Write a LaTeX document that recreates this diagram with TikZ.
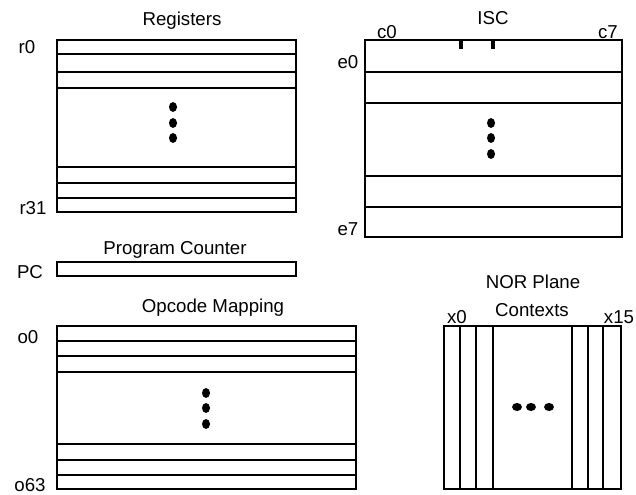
\documentclass[tikz,border=0pt]{standalone}
\usepackage{fontspec}
\setmainfont{Liberation Sans}
\begin{document}
\begin{tikzpicture}[x=0.75pt, y=-0.75pt, line width=1.3pt,
	lbl/.style={font=\fontsize{14}{16}\selectfont, inner sep=0pt}]
	\useasboundingbox (0,0) rectangle (636,495);
		% Registers
		\begin{scope}
			\draw (57,40) rectangle (296,212);
			\foreach \y in {54,72,88,167,183,198} \draw (57,\y) -- (296,\y);
			\foreach \y in {107,123,138} \fill (173,\y) ellipse (4 and 5);
			\node[lbl] (regtitle) at (182,21) {Registers};
			\node[lbl] (r0) at (27,47) {r0};
			\node[lbl] (r31) at (33,208) {r31};
		\end{scope}

		% ISC
		\begin{scope}
			\draw (365,40) rectangle (622,237);
			\foreach \y in {72,103,176,207} \draw (365,\y) -- (622,\y);
			\foreach \x in {461,493} \draw[line width=2.5pt] (\x,40) -- (\x,49);
			\foreach \y in {123,138,154} \fill (491,\y) ellipse (4 and 5);
			\node[lbl] (isctitle) at (493,18) {ISC};
			\node[lbl] (c0) at (387,32) {c0};
			\node[lbl] (c7) at (608,32) {c7};
			\node[lbl] (e0) at (348,62) {e0};
			\node[lbl] (e7) at (348,229) {e7};
		\end{scope}

		% Program Counter
		\begin{scope}
			\draw (57,262) rectangle (296,276);
			\node[lbl] (pctitle) at (175,250) {Program Counter};
			\node[lbl] (pc) at (30,272) {PC};
		\end{scope}

		% Opcode Mapping
		\begin{scope}
			\draw (57,326) rectangle (356,489);
			\foreach \y in {341,356,372,444,460,475} \draw (57,\y) -- (356,\y);
			\foreach \y in {393,408,424} \fill (206,\y) ellipse (4 and 5);
			\node[lbl] (optitle) at (213,308) {Opcode Mapping};
			\node[lbl] (o0) at (28,337) {o0};
			\node[lbl] (o63) at (30,485) {o63};
		\end{scope}

		% NOR Plane Contexts
		\begin{scope}
			\draw (444,326) rectangle (621,489);
			\foreach \x in {460,476,493,572,588,603} \draw (\x,326) -- (\x,489);
			\foreach \x in {517,531,549} \fill (\x,407) ellipse (5 and 4);
			\node[lbl] (nortitle) at (533,282) {NOR Plane};
			\node[lbl] (norsub) at (532,310) {Contexts};
			\node[lbl] (x0) at (457,317) {x0};
			\node[lbl] (x15) at (619,317) {x15};
		\end{scope}
	\end{tikzpicture}
\end{document}
